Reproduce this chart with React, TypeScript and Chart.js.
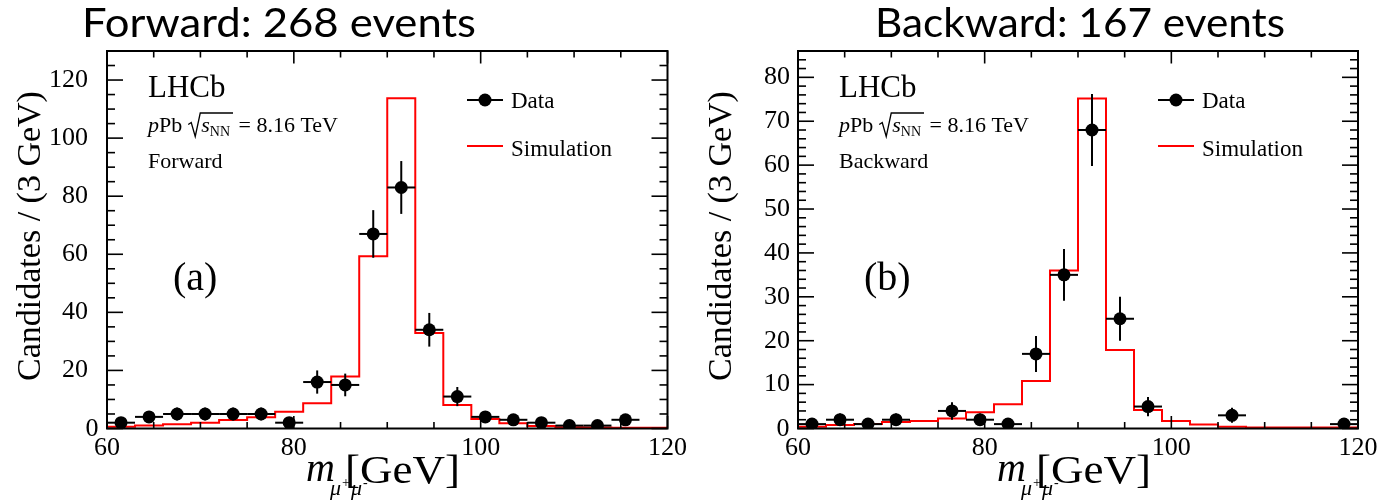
import React, { useEffect, useRef } from "react";
import { Chart, registerables } from "chart.js";

Chart.register(...registerables);

// Bin centres of the dimuon invariant-mass histogram [GeV], 3 GeV bins from 60 to 120
const massBins = [61.5, 64.5, 67.5, 70.5, 73.5, 76.5, 79.5, 82.5, 85.5, 88.5, 91.5, 94.5, 97.5, 100.5, 103.5, 106.5, 109.5, 112.5, 115.5, 118.5];
const BIN_WIDTH = 3;

// Forward (a)
const forwardCounts = [2, 4, 5, 5, 5, 5, 2, 16, 15, 67, 83, 34, 11, 4, 3, 2, 1, 1, 3, 0];
const forwardErrors = [1.4, 2, 2.2, 2.2, 2.2, 2.2, 1.4, 4, 3.9, 8.2, 9.1, 5.8, 3.3, 2, 1.7, 1.4, 1, 1, 1.7, 0];
const forwardSimulation = [0.6, 1.0, 1.5, 2.0, 2.9, 3.9, 5.8, 8.7, 17.9, 59.3, 113.7, 32.9, 8.1, 3.3, 1.8, 0.9, 0.4, 0.35, 0.3, 0.3];

// Backward (b)
const backwardCounts = [1, 2, 1, 2, 0, 4, 2, 1, 17, 35, 68, 25, 5, 0, 0, 3, 0, 0, 0, 1];
const backwardErrors = [1, 1.4, 1, 1.4, 0, 2, 1.4, 1, 4.1, 5.9, 8.2, 5, 2.2, 0, 0, 1.7, 0, 0, 0, 1];
const backwardSimulation = [0.4, 0.8, 1.0, 1.5, 1.7, 2.3, 3.7, 5.5, 10.8, 36, 75.2, 17.9, 4.2, 1.7, 0.9, 0.4, 0.2, 0.2, 0.2, 0.2];

const xMin = 60;
const xMax = 120;
const xMajorStep = 20;
const xMinorStep = 5;

const SERIF = '"Liberation Serif", "Times New Roman", serif';
const SANS = 'Lato, "Open Sans", sans-serif';
const H = 501;

type PanelProps = {
  left: number;
  width: number;
  plotRight: number;
  title: string;
  titleX: number;
  titleWidth: number;
  counts: number[];
  errors: number[];
  simulation: number[];
  yMax: number;
  yStep: number;
  yMinor: number;
  yPad: number;
  direction: string;
  tag: string;
};

function Panel(p: PanelProps) {
  const ref = useRef<HTMLCanvasElement>(null);

  useEffect(() => {
    const canvas = ref.current!;
    const plotLeft = 107;
    const plotTop = 51;
    const plotBottom = 428.5;

    const line = (ctx: CanvasRenderingContext2D, x1: number, y1: number, x2: number, y2: number) => {
      ctx.beginPath();
      ctx.moveTo(x1, y1);
      ctx.lineTo(x2, y2);
      ctx.stroke();
    };

    const rootPlugin = {
      id: "rootStyle",
      afterDatasetsDraw(chart: any) {
        const ctx: CanvasRenderingContext2D = chart.ctx;
        const xs = chart.scales.x;
        const ys = chart.scales.y;
        ctx.save();
        ctx.strokeStyle = "#000";
        ctx.lineWidth = 2;
        massBins.forEach((m, i) => {
          const v = p.counts[i];
          if (!(v > 0)) return;
          const e = p.errors[i];
          const py = ys.getPixelForValue(v);
          line(ctx, xs.getPixelForValue(m - BIN_WIDTH / 2), py, xs.getPixelForValue(m + BIN_WIDTH / 2), py);
          const px = xs.getPixelForValue(m);
          line(ctx, px, ys.getPixelForValue(Math.max(0, v - e)), px, ys.getPixelForValue(v + e));
        });
        ctx.restore();
      },
      afterDraw(chart: any) {
        const ctx: CanvasRenderingContext2D = chart.ctx;
        const a = chart.chartArea;
        const xs = chart.scales.x;
        const ys = chart.scales.y;
        ctx.save();
        ctx.strokeStyle = "#000";
        ctx.fillStyle = "#000";

        // ticks (inward, mirrored on all four sides)
        ctx.lineWidth = 1.6;
        for (let v = xMin; v <= xMax + 1e-9; v += xMinorStep) {
          const px = xs.getPixelForValue(v);
          const major = Math.abs((v - xMin) % xMajorStep) < 1e-9;
          const len = major ? 12.5 : 6.5;
          line(ctx, px, a.bottom, px, a.bottom - len);
          line(ctx, px, a.top, px, a.top + len);
        }
        for (let v = 0; v <= p.yMax + 1e-9; v += p.yMinor) {
          const py = ys.getPixelForValue(v);
          const major = Math.abs(v % p.yStep) < 1e-9;
          const len = major ? 16 : 8;
          line(ctx, a.left, py, a.left + len, py);
          line(ctx, a.right, py, a.right - len, py);
        }

        // frame
        ctx.lineWidth = 2;
        ctx.strokeRect(a.left, a.top, a.right - a.left, a.bottom - a.top);

        // zero label of the y axis (ROOT places it slightly offset)
        ctx.font = `26px ${SERIF}`;
        ctx.textAlign = "center";
        ctx.textBaseline = "middle";
        ctx.fillText("0", a.left - 15, a.bottom + 1);

        // y axis title
        ctx.save();
        ctx.translate(31, 236);
        ctx.rotate(-Math.PI / 2);
        ctx.font = `34px ${SERIF}`;
        ctx.textAlign = "center";
        ctx.textBaseline = "middle";
        ctx.fillText("Candidates / (3 GeV)", 0, 0);
        ctx.restore();

        ctx.textAlign = "left";
        ctx.textBaseline = "alphabetic";

        // x axis title  m_{mu+ mu-} [GeV]
        const x0 = a.left + 199;
        ctx.font = `italic 40px ${SERIF}`;
        ctx.fillText("m", x0, 481);
        let sx = x0 + 24;
        ctx.font = `italic 22px ${SERIF}`;
        ctx.fillText("μ", sx, 495);
        sx += ctx.measureText("μ").width + 1;
        ctx.font = `14px ${SERIF}`;
        ctx.fillText("+", sx, 487);
        sx += ctx.measureText("+").width + 1;
        ctx.font = `italic 22px ${SERIF}`;
        ctx.fillText("μ", sx, 495);
        sx += ctx.measureText("μ").width + 1;
        ctx.font = `14px ${SERIF}`;
        ctx.fillText("-", sx, 487);
        ctx.save();
        ctx.font = `40px ${SERIF}`;
        const gw = ctx.measureText("[GeV]").width;
        ctx.translate(a.left + 238, 483);
        ctx.scale(115 / gw, 1);
        ctx.fillText("[GeV]", 0, 0);
        ctx.restore();

        // panel title (Calibri-like sans)
        ctx.save();
        ctx.font = `40px ${SANS}`;
        const tw = ctx.measureText(p.title).width;
        ctx.translate(p.titleX, 37);
        ctx.scale(p.titleWidth / tw, 1);
        ctx.fillText(p.title, 0, 0);
        ctx.restore();

        // LHCb label block
        const tx = a.left + 41;
        ctx.font = `31px ${SERIF}`;
        ctx.fillText("LHCb", tx, 97);

        let cx = tx;
        const by = 131.5;
        ctx.font = `italic 22px ${SERIF}`;
        ctx.fillText("p", cx, by);
        cx += ctx.measureText("p").width;
        ctx.font = `22px ${SERIF}`;
        ctx.fillText("Pb", cx, by);
        cx += ctx.measureText("Pb").width + 6;
        // radical sign
        const r0 = cx;
        ctx.font = `italic 22px ${SERIF}`;
        const sW = ctx.measureText("s").width;
        ctx.font = `14px ${SERIF}`;
        const nnW = ctx.measureText("NN").width;
        const overEnd = r0 + 13 + sW + nnW + 3;
        ctx.lineWidth = 1.3;
        ctx.beginPath();
        ctx.moveTo(r0, by - 7);
        ctx.lineTo(r0 + 3, by - 9);
        ctx.lineTo(r0 + 7, by + 5);
        ctx.lineTo(r0 + 12, by - 18.5);
        ctx.lineTo(overEnd, by - 18.5);
        ctx.stroke();
        cx = r0 + 13;
        ctx.font = `italic 22px ${SERIF}`;
        ctx.fillText("s", cx, by);
        cx += sW;
        ctx.font = `14px ${SERIF}`;
        ctx.fillText("NN", cx, by + 4);
        cx = overEnd;
        ctx.font = `22px ${SERIF}`;
        ctx.fillText(" = 8.16 TeV", cx, by);

        ctx.fillText(p.direction, tx, 168);

        ctx.font = `40px ${SERIF}`;
        ctx.fillText(p.tag, a.left + 66, 290);

        // legend
        const lx = a.left + 360;
        ctx.lineWidth = 2;
        ctx.strokeStyle = "#000";
        line(ctx, lx, 100, lx + 36, 100);
        ctx.beginPath();
        ctx.arc(lx + 18, 100, 6.5, 0, Math.PI * 2);
        ctx.fill();
        ctx.strokeStyle = "#ff0000";
        line(ctx, lx, 146, lx + 36, 146);
        ctx.font = `23px ${SERIF}`;
        ctx.fillText("Data", lx + 44, 108);
        ctx.fillText("Simulation", lx + 44, 155.5);

        ctx.restore();
      },
    };

    const dataPoints = massBins
      .map((m, i) => ({ x: m, y: p.counts[i] }))
      .filter((pt) => pt.y > 0);
    const simPoints = massBins.map((m, i) => ({ x: m - BIN_WIDTH / 2, y: p.simulation[i] }));
    simPoints.push({ x: massBins[massBins.length - 1] + BIN_WIDTH / 2, y: p.simulation[p.simulation.length - 1] });

    const chart = new Chart(canvas, {
      type: "scatter",
      data: {
        datasets: [
          {
            label: "Data",
            data: dataPoints,
            showLine: false,
            pointRadius: 6.5,
            pointBackgroundColor: "#000",
            pointBorderWidth: 0,
            pointHoverRadius: 6.5,
          },
          {
            label: "Simulation",
            data: simPoints,
            showLine: true,
            stepped: "before",
            borderColor: "#ff0000",
            borderWidth: 2,
            pointRadius: 0,
            pointHoverRadius: 0,
            fill: false,
          },
        ],
      },
      options: {
        animation: false,
        responsive: false,
        maintainAspectRatio: false,
        events: [],
        layout: { padding: { top: plotTop, right: p.width - p.plotRight, left: 0, bottom: 0 } },
        plugins: {
          legend: { display: false },
          tooltip: { enabled: false },
          title: { display: false },
        },
        scales: {
          x: {
            type: "linear",
            min: xMin,
            max: xMax,
            grid: { display: false, drawTicks: false },
            border: { display: false },
            ticks: {
              stepSize: xMajorStep,
              maxRotation: 0,
              padding: 4,
              color: "#000",
              font: { family: SERIF, size: 26 },
            },
            afterFit: (s: any) => {
              s.height = H - plotBottom;
            },
          },
          y: {
            type: "linear",
            min: 0,
            max: p.yMax,
            grid: { display: false, drawTicks: false },
            border: { display: false },
            ticks: {
              stepSize: p.yStep,
              includeBounds: false,
              padding: p.yPad,
              color: "#000",
              font: { family: SERIF, size: 26 },
              callback: (v: any) => (v === 0 ? "" : String(v)),
            },
            afterFit: (s: any) => {
              s.width = plotLeft;
            },
          },
        },
      },
      plugins: [rootPlugin],
    } as any);

    return () => chart.destroy();
  }, []);

  return (
    <canvas
      ref={ref}
      width={p.width}
      height={H}
      style={{ position: "absolute", left: p.left, top: 0, width: p.width, height: H, display: "block" }}
    />
  );
}

export default function App() {
  return (
    <div style={{ position: "fixed", left: 0, top: 0, width: 1398, height: H, background: "#fff", overflow: "hidden" }}>
      <Panel
        left={0}
        width={691}
        plotRight={668}
        title="Forward: 268 events"
        titleX={82}
        titleWidth={394}
        counts={forwardCounts}
        errors={forwardErrors}
        simulation={forwardSimulation}
        yMax={130}
        yStep={20}
        yMinor={5}
        yPad={19}
        direction="Forward"
        tag="(a)"
      />
      <Panel
        left={691}
        width={707}
        plotRight={667}
        title="Backward: 167 events"
        titleX={184}
        titleWidth={410}
        counts={backwardCounts}
        errors={backwardErrors}
        simulation={backwardSimulation}
        yMax={86}
        yStep={10}
        yMinor={2}
        yPad={8}
        direction="Backward"
        tag="(b)"
      />
    </div>
  );
}
